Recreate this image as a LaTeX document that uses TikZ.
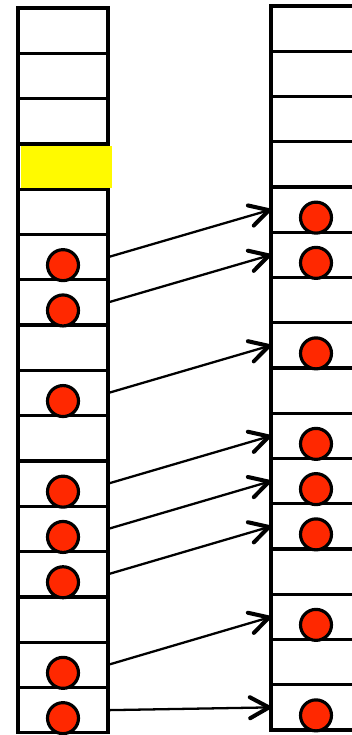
\documentclass[tikz,border=0pt]{standalone}
\usetikzlibrary{arrows.meta,calc}
\definecolor{ballcolor}{RGB}{255,40,0}
\definecolor{markcolor}{RGB}{255,250,0}

\tikzset{
  cell/.style={draw, line width=1.9pt, minimum width=1.8cm, minimum height=0.906cm,
    inner sep=0pt, outer sep=0pt},
  ball/.style={circle, draw, fill=ballcolor, line width=1.8pt, minimum size=0.62cm,
    inner sep=0pt},
  move/.style={->, line width=1.3pt}
}

\begin{document}
\begin{tikzpicture}[x=0.02cm, y=-0.02cm,
  >={Straight Barb[length=3.8mm, width=4.2mm, line width=2.3pt, round]}]

  \path[use as bounding box, clip] (0,0) rectangle (352,735);

  % ---- the two columns of slots ----
  \foreach \i in {0,...,15} {
    \node[cell] (L\i) at (63, {8+45.3*(\i+0.5)}) {};
    \node[cell] (R\i) at (316, {6+45.25*(\i+0.5)}) {};
  }

  % marked slot (left)
  \fill[markcolor] ($(L3.north west)+(2.9,1.9)$) rectangle ($(L3.south east)+(3.7,-1.2)$);

  % ---- occupied slots ----
  \foreach \i in {5,6,8,10,11,12,14,15}
    \node[ball] (a\i) at ($(L\i)+(0,8)$) {};
  \foreach \i in {4,5,7,9,10,11,13,15}
    \node[ball] (b\i) at ($(R\i)+(0,8)$) {};

  % ---- moves left -> right ----
  \foreach \s/\t in {5/4, 6/5, 8/7, 10/9, 11/10, 12/11, 14/13, 15/15}
    \draw[move] (L\s.east) -- (R\t.west);

\end{tikzpicture}
\end{document}
